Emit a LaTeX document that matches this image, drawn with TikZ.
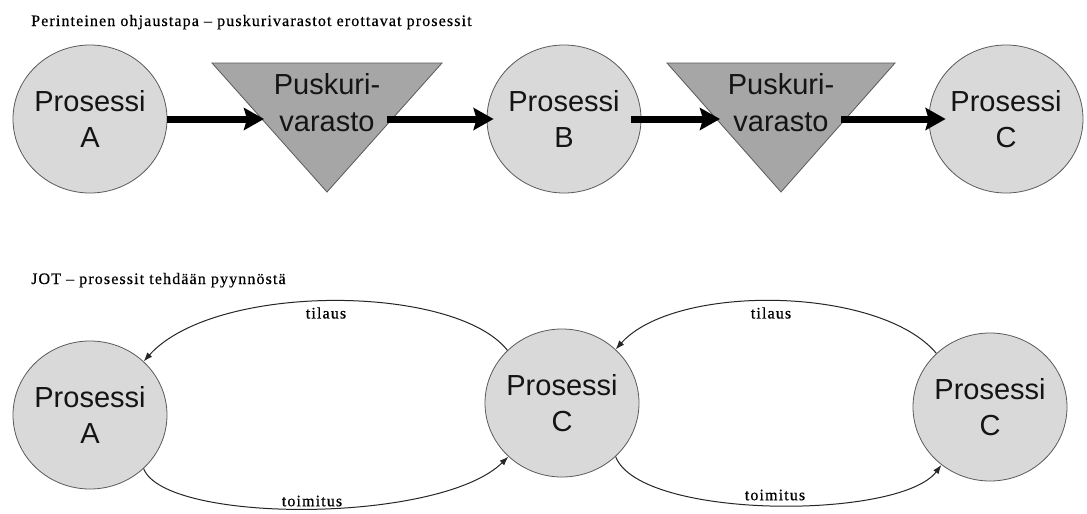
\documentclass[tikz,border=0pt]{standalone}
\usepackage{fontspec}
\usetikzlibrary{shapes.geometric,arrows.meta}
\newfontfamily\procfont{Liberation Sans}
\newfontfamily\notefont[LetterSpace=7,FakeBold=0.5]{Liberation Serif}
\definecolor{procfill}{RGB}{217,217,217}
\definecolor{bufferfill}{RGB}{166,166,166}
\definecolor{edgegray}{RGB}{90,90,90}
\definecolor{inkblack}{RGB}{20,20,20}

\begin{document}
\begin{tikzpicture}[x=1pt,y=-1pt,
  proc/.style={ellipse, draw=edgegray, line width=0.8pt, fill=procfill,
    minimum width=154pt, minimum height=148pt, inner xsep=-4pt, inner ysep=0pt,
    align=center, text=inkblack, font=\procfont\fontsize{29}{36}\selectfont},
  buffer/.style={draw=edgegray, line width=0.8pt, fill=bufferfill, line join=miter},
  buffertext/.style={align=center, text=inkblack, inner sep=0pt,
    font=\procfont\fontsize{29}{37}\selectfont},
  flow/.style={line width=7pt, -{Stealth[length=20pt,width=22pt,inset=3pt]}},
  conn/.style={draw=black!85, line width=1pt, -{Latex[length=9pt,width=6.5pt]}},
  heading/.style={anchor=base west, inner sep=0pt, font=\notefont\fontsize{16}{19}\selectfont},
  tag/.style={inner sep=0pt, font=\notefont\fontsize{16}{19}\selectfont}
]
\path[fill=white, use as bounding box] (0,0) rectangle (1087,514);

% ---- traditional control: buffer stocks between processes ----
\node[heading] (h1) at (31,26) {Perinteinen ohjaustapa – puskurivarastot erottavat prosessit};

\node[proc] (A) at (90,119) {Prosessi\\A};
\node[proc] (B) at (564,119) {Prosessi\\B};
\node[proc] (C) at (1006,119) {Prosessi\\C};

% buffer stock triangles
\coordinate (T1l) at (212,63);
\coordinate (T1r) at (442,63);
\coordinate (T1v) at (327,192);
\filldraw[buffer] (T1l) -- (T1r) -- (T1v) -- cycle;
\node[buffertext] (T1) at (327,103) {Puskuri-\\varasto};
\coordinate (T1in) at (264,119);
\coordinate (T1out) at (387,119);

\coordinate (T2l) at (667,63);
\coordinate (T2r) at (895,63);
\coordinate (T2v) at (781,192);
\filldraw[buffer] (T2l) -- (T2r) -- (T2v) -- cycle;
\node[buffertext] (T2) at (781,103) {Puskuri-\\varasto};
\coordinate (T2in) at (720,119);
\coordinate (T2out) at (841,119);

% material flow
\draw[flow] (A) -- (T1in);
\draw[flow, shorten >=-7pt] (T1out) -- (B);
\draw[flow, shorten <=-10pt] (B) -- (T2in);
\draw[flow, shorten >=-17pt] (T2out) -- (C);

% ---- JIT: processes work on request ----
\node[heading] (h2) at (31,284) {JOT – prosessit tehdään pyynnöstä};

\node[proc] (A2) at (90,415) {Prosessi\\A};
\node[proc] (M) at (562,403) {Prosessi\\C};
\node[proc] (R) at (990,407) {Prosessi\\C};

\draw[conn] (M.136) .. controls (455,284) and (215,282) .. (A2.45);
\node[tag] (o1) at (326,313) {tilaus};
\draw[conn] (A2.-45) .. controls (165,524) and (440,524) .. (M.-135);
\node[tag] (d1) at (312,501) {toimitus};

\draw[conn] (R.135) .. controls (880,286) and (675,283) .. (M.45);
\node[tag] (o2) at (771,313) {tilaus};
\draw[conn] (M.-45) .. controls (640,520) and (900,520) .. (R.-130);
\node[tag] (d2) at (775,495) {toimitus};
\end{tikzpicture}
\end{document}
